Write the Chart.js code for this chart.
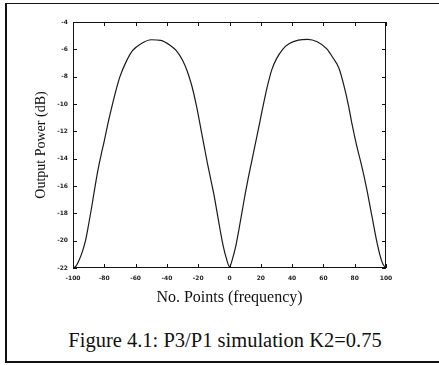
<!DOCTYPE html>
<html lang="en">
<head>
  <meta charset="UTF-8">
  <title>P3/P1 simulation</title>
  <script src="https://cdn.jsdelivr.net/npm/chart.js"></script>
  <style>
    html, body { margin: 0; padding: 0; background: #fff; }
    #page { position: relative; width: 439px; height: 365px; overflow: hidden; }
    /* scanned figure frame: left, top and bottom rules only */
    #frame {
      position: absolute; left: 5px; top: 3px; width: 440px; height: 357px;
      border-left: 2px solid #111; border-top: 1px solid #111; border-bottom: 2px solid #111;
    }
    #chart-box { position: absolute; left: 0; top: 0; width: 439px; height: 310px; }
    #caption {
      position: absolute; left: 0; width: 450px; top: 329px; text-align: center;
      font-family: "Liberation Serif", "DejaVu Serif", serif; font-size: 20.5px; color: #111;
    }
  </style>
</head>
<body>
  <div id="page">
    <div id="frame"></div>
    <div id="chart-box"><canvas id="powerChart"></canvas></div>
    <div id="caption">Figure 4.1: P3/P1 simulation K2=0.75</div>
  </div>
  <script>
    // frequency points (x) and output power in dB
    const freqPoints = [
      -100, -98, -96, -94, -92, -90, -88, -86, -84, -82, -80, -78, -76, -73, -70, -66, -62, -56,
      -50, -44, -38, -34, -30, -27, -24, -21, -18, -16, -14, -12, -10, -8, -6, -4, -2, 0,
      2, 4, 6, 8, 10, 12, 14, 16, 18, 21, 24, 27, 30, 34, 38, 44, 50, 56, 62, 66, 70, 73,
      76, 78, 80, 82, 84, 86, 88, 90, 92, 94, 96, 98, 100
    ];
    const outputPower = [
      -22.0, -21.85, -21.4, -20.8, -20.0, -18.8, -17.5, -16.1, -14.8, -13.7, -12.7, -11.6, -10.6, -9.2, -8.0, -6.9, -6.1, -5.55,
      -5.3, -5.35, -5.7, -6.1, -6.8, -7.6, -8.7, -10.2, -12.0, -13.2, -14.4, -15.5, -16.6, -17.9, -19.2, -20.4, -21.3, -21.9,
      -21.3, -20.4, -19.2, -17.9, -16.6, -15.4, -14.3, -13.2, -12.1, -10.4, -8.8, -7.5, -6.7, -6.0, -5.6, -5.32, -5.27, -5.45, -5.95, -6.6, -7.4, -8.6,
      -10.1, -11.3, -12.4, -13.4, -14.3, -15.3, -16.4, -17.6, -18.8, -20.0, -21.0, -21.7, -22.0
    ];
    const xTicks = [-100, -80, -60, -40, -20, 0, 20, 40, 60, 80, 100];
    const yTicks = [-22, -20, -18, -16, -14, -12, -10, -8, -6, -4];

    const points = freqPoints.map((x, i) => ({ x: x, y: outputPower[i] }));

    // MATLAB style box with ticks pointing inwards on all four sides
    const boxTicks = {
      id: 'boxTicks',
      afterDraw(chart) {
        const { ctx, chartArea: a, scales } = chart;
        const len = 4;
        ctx.save();
        ctx.strokeStyle = '#111';
        ctx.lineWidth = 1;
        ctx.strokeRect(a.left + 0.5, a.top + 0.5, a.right - a.left - 1, a.bottom - a.top - 1);
        ctx.beginPath();
        xTicks.forEach(v => {
          const px = Math.round(scales.x.getPixelForValue(v)) + 0.5;
          ctx.moveTo(px, a.bottom); ctx.lineTo(px, a.bottom - len);
          ctx.moveTo(px, a.top); ctx.lineTo(px, a.top + len);
        });
        yTicks.forEach(v => {
          const py = Math.round(scales.y.getPixelForValue(v)) + 0.5;
          ctx.moveTo(a.left, py); ctx.lineTo(a.left + len, py);
          ctx.moveTo(a.right, py); ctx.lineTo(a.right - len, py);
        });
        ctx.stroke();
        ctx.restore();
      }
    };

    const tickFont = { family: 'DejaVu Sans', size: 6, weight: 'bold' };

    new Chart(document.getElementById('powerChart').getContext('2d'), {
      type: 'line',
      data: {
        datasets: [{
          label: 'Output Power',
          data: points,
          borderColor: '#1a1a1a',
          borderWidth: 1.2,
          pointRadius: 0,
          cubicInterpolationMode: 'monotone',
          fill: false
        }]
      },
      options: {
        responsive: true,
        maintainAspectRatio: false,
        animation: false,
        layout: { padding: { left: 0, right: 53, top: 22, bottom: 0 } },
        plugins: { legend: { display: false }, tooltip: { enabled: false } },
        scales: {
          x: {
            type: 'linear',
            min: -100, max: 100,
            afterBuildTicks: s => { s.ticks = xTicks.map(v => ({ value: v })); },
            afterFit: s => { s.height = 42; },
            grid: { display: false, drawTicks: false },
            border: { display: false },
            ticks: { font: tickFont, color: '#222', padding: 7, maxRotation: 0 },
            title: { display: true, text: 'No. Points (frequency)', font: { family: 'Liberation Serif', size: 16 }, color: '#111', padding: { top: 0, bottom: 3 } }
          },
          y: {
            min: -22, max: -4,
            afterBuildTicks: s => { s.ticks = yTicks.map(v => ({ value: v })); },
            afterFit: s => { s.width = 73; },
            grid: { display: false, drawTicks: false },
            border: { display: false },
            ticks: { font: tickFont, color: '#222', padding: 5 },
            title: { display: true, text: 'Output Power (dB)', font: { family: 'Liberation Serif', size: 14 }, color: '#111', padding: { top: 33, bottom: 0 } }
          }
        }
      },
      plugins: [boxTicks]
    });
  </script>
</body>
</html>
